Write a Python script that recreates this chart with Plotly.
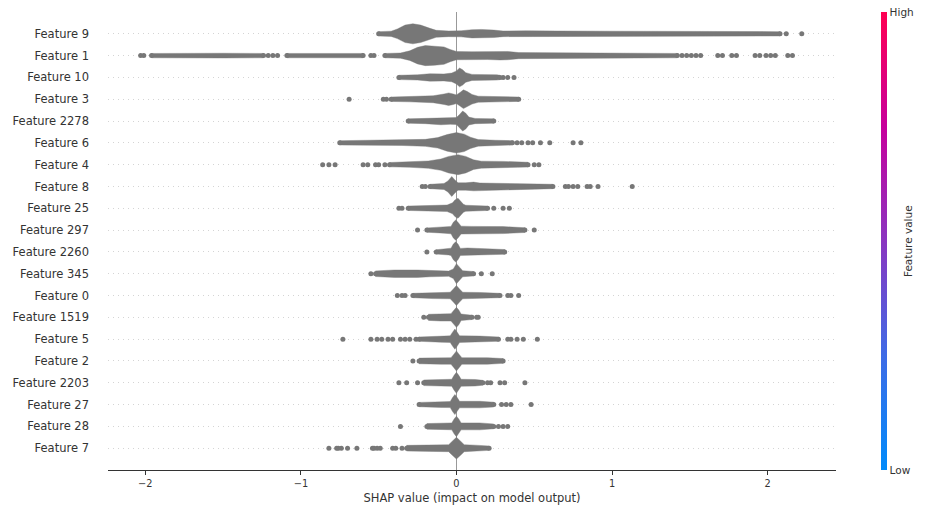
import plotly.graph_objects as go

# ---------------- data ----------------
features = ["Feature 9", "Feature 1", "Feature 10", "Feature 3", "Feature 2278",
            "Feature 6", "Feature 4", "Feature 8", "Feature 25", "Feature 297",
            "Feature 2260", "Feature 345", "Feature 0", "Feature 1519", "Feature 5",
            "Feature 2", "Feature 2203", "Feature 27", "Feature 28", "Feature 7"]

# swarm envelope: SHAP positions and half-thickness of the swarm (in row units)
body_x = [
    [-0.50, -0.42, -0.38, -0.33, -0.28, -0.23, -0.17, -0.13, -0.05, 0.03, 0.10, 0.16, 0.24, 0.30, 0.45, 0.55, 0.65, 1.0, 1.6, 2.08],
    [-1.96, -1.80, -1.50, -1.24, None, -1.09, -0.80, -0.60, None,
     -0.46, -0.36, -0.30, -0.25, -0.20, -0.14, -0.08, -0.04, 0.0, 0.10, 0.20, 0.28, 0.33, 0.40, 0.60, 1.0, 1.42],
    [-0.37, -0.25, -0.17, -0.08, -0.03, 0.0, 0.02, 0.04, 0.06, 0.10, 0.26, 0.28],
    [-0.42, -0.30, -0.15, -0.08, -0.05, -0.02, 0.0, 0.025, 0.045, 0.07, 0.10, 0.14, 0.30, 0.40],
    [-0.31, -0.20, -0.10, -0.04, 0.0, 0.02, 0.04, 0.06, 0.08, 0.12, 0.24],
    [-0.75, -0.55, -0.35, -0.20, -0.12, -0.06, 0.0, 0.05, 0.09, 0.14, 0.25, 0.36],
    [-0.43, -0.30, -0.18, -0.10, -0.05, 0.01, 0.06, 0.11, 0.16, 0.30, 0.46],
    [-0.17, -0.08, -0.055, -0.03, -0.01, 0.01, 0.06, 0.11, 0.15, 0.30, 0.50, 0.62],
    [-0.31, -0.15, -0.06, -0.025, -0.01, 0.01, 0.03, 0.045, 0.06, 0.20],
    [-0.19, -0.08, -0.035, -0.02, -0.005, 0.01, 0.03, 0.10, 0.30, 0.44],
    [-0.13, -0.05, -0.035, -0.02, -0.005, 0.01, 0.025, 0.07, 0.15, 0.31],
    [-0.52, -0.40, -0.25, -0.17, -0.05, -0.02, 0.0, 0.02, 0.04, 0.11],
    [-0.28, -0.15, -0.04, -0.02, 0.0, 0.02, 0.04, 0.15, 0.28],
    [-0.18, -0.10, -0.035, -0.015, 0.0, 0.015, 0.03, 0.10],
    [-0.24, -0.10, -0.04, -0.025, -0.01, 0.005, 0.02, 0.15, 0.27],
    [-0.24, -0.10, -0.035, -0.015, 0.0, 0.015, 0.035, 0.20, 0.30],
    [-0.21, -0.10, -0.03, -0.015, 0.0, 0.015, 0.03, 0.12, 0.17],
    [-0.24, -0.10, -0.04, -0.025, -0.01, 0.005, 0.02, 0.15, 0.24],
    [-0.19, -0.06, -0.03, -0.015, 0.0, 0.015, 0.03, 0.15, 0.24],
    [-0.32, -0.15, -0.05, -0.03, 0.0, 0.03, 0.05, 0.12, 0.21],
]
body_w = [
    [0.10, 0.12, 0.22, 0.40, 0.46, 0.40, 0.25, 0.16, 0.13, 0.14, 0.19, 0.20, 0.17, 0.13, 0.14, 0.15, 0.13, 0.12, 0.11, 0.10],
    [0.10, 0.11, 0.11, 0.10, None, 0.10, 0.10, 0.10, None,
     0.10, 0.12, 0.22, 0.38, 0.46, 0.44, 0.40, 0.28, 0.19, 0.18, 0.18, 0.20, 0.19, 0.14, 0.13, 0.12, 0.10],
    [0.10, 0.12, 0.17, 0.16, 0.20, 0.30, 0.43, 0.35, 0.22, 0.14, 0.12, 0.10],
    [0.10, 0.12, 0.16, 0.24, 0.29, 0.24, 0.20, 0.32, 0.43, 0.35, 0.22, 0.14, 0.12, 0.10],
    [0.10, 0.12, 0.17, 0.15, 0.16, 0.30, 0.46, 0.36, 0.18, 0.12, 0.10],
    [0.10, 0.11, 0.12, 0.16, 0.24, 0.38, 0.47, 0.40, 0.26, 0.15, 0.12, 0.10],
    [0.10, 0.12, 0.17, 0.26, 0.38, 0.46, 0.38, 0.22, 0.16, 0.15, 0.11],
    [0.10, 0.14, 0.25, 0.46, 0.30, 0.17, 0.17, 0.20, 0.16, 0.14, 0.12, 0.10],
    [0.10, 0.14, 0.15, 0.25, 0.38, 0.46, 0.30, 0.18, 0.14, 0.10],
    [0.10, 0.14, 0.17, 0.36, 0.46, 0.36, 0.18, 0.17, 0.16, 0.11],
    [0.10, 0.14, 0.17, 0.36, 0.46, 0.36, 0.16, 0.18, 0.15, 0.11],
    [0.13, 0.17, 0.17, 0.14, 0.12, 0.22, 0.46, 0.30, 0.14, 0.10],
    [0.10, 0.14, 0.15, 0.30, 0.46, 0.30, 0.15, 0.14, 0.10],
    [0.14, 0.17, 0.17, 0.34, 0.46, 0.34, 0.15, 0.10],
    [0.10, 0.14, 0.15, 0.32, 0.46, 0.32, 0.15, 0.14, 0.10],
    [0.13, 0.15, 0.15, 0.32, 0.46, 0.32, 0.15, 0.15, 0.11],
    [0.13, 0.15, 0.16, 0.34, 0.48, 0.34, 0.16, 0.15, 0.11],
    [0.10, 0.13, 0.14, 0.32, 0.46, 0.32, 0.15, 0.15, 0.11],
    [0.13, 0.15, 0.16, 0.34, 0.47, 0.34, 0.16, 0.16, 0.11],
    [0.13, 0.15, 0.16, 0.30, 0.50, 0.30, 0.16, 0.14, 0.10],
]
# isolated points outside the dense swarm
outliers = [
    [2.12, 2.22],
    [-2.03, -2.01, -1.21, -1.18, -1.15, -0.55, -0.53, 1.45, 1.48, 1.51, 1.54, 1.57,
     1.68, 1.71, 1.77, 1.80, 1.92, 1.95, 1.99, 2.02, 2.05, 2.13, 2.16],
    [0.30, 0.33, 0.37],
    [-0.69, -0.47, -0.45],
    [],
    [0.39, 0.42, 0.46, 0.49, 0.54, 0.60, 0.75, 0.80],
    [-0.86, -0.82, -0.78, -0.60, -0.57, -0.52, -0.50, -0.46, 0.50, 0.53],
    [-0.22, -0.20, 0.70, 0.72, 0.75, 0.78, 0.84, 0.86, 0.91, 1.13],
    [-0.37, -0.35, 0.24, 0.30, 0.34],
    [-0.25, 0.50],
    [-0.19],
    [-0.55, 0.16, 0.23],
    [-0.38, -0.35, -0.33, 0.33, 0.35, 0.40],
    [-0.21, 0.13, 0.14],
    [-0.73, -0.55, -0.51, -0.48, -0.44, -0.41, -0.36, -0.33, -0.30, -0.26, 0.33, 0.35, 0.39, 0.43, 0.52],
    [-0.28],
    [-0.37, -0.32, -0.25, 0.20, 0.22, 0.28, 0.31, 0.44],
    [0.29, 0.32, 0.35, 0.48],
    [-0.36, 0.27, 0.30, 0.33],
    [-0.82, -0.77, -0.76, -0.74, -0.70, -0.64, -0.54, -0.53, -0.51, -0.49, -0.41, -0.39, -0.35],
]
x_tick_vals = [-2, -1, 0, 1, 2]
x_tick_text = ["\u22122", "\u22121", "0", "1", "2"]

# ---------------- styling ----------------
GRAY = "#777777"
FONT = "DejaVu Sans"
TXT = "#333333"
n = len(features)

fig = go.Figure()
for i, name in enumerate(features):
    row = n - 1 - i
    segs, cur = [], []
    for x, w in zip(body_x[i], body_w[i]):
        if x is None:
            segs.append(cur)
            cur = []
        else:
            cur.append((x, w))
    segs.append(cur)
    px, py, cap_x = [], [], []
    for seg in segs:
        ux = [x for x, w in seg]
        uy = [row + w for x, w in seg]
        ly = [row - w for x, w in seg]
        px += ux + ux[::-1] + [ux[0], None]
        py += uy + ly[::-1] + [uy[0], None]
        cap_x += [ux[0], ux[-1]]
    fig.add_trace(go.Scatter(x=px, y=py, mode="lines", fill="toself",
                             fillcolor=GRAY, line=dict(width=0.4, color=GRAY),
                             hoverinfo="skip", showlegend=False))
    pts = outliers[i] + cap_x
    fig.add_trace(go.Scatter(x=pts, y=[row] * len(pts), mode="markers",
                             marker=dict(size=5, color=GRAY, line=dict(width=0)),
                             hoverinfo="skip", showlegend=False))

# colorbar (feature value scale)
fig.add_trace(go.Scatter(
    x=[None, None], y=[None, None], mode="markers", showlegend=False, hoverinfo="skip",
    marker=dict(color=[0, 1], cmin=0, cmax=1, showscale=True,
                colorscale=[[0, "#008bfb"], [0.25, "#3e6be6"], [0.5, "#8a35c0"],
                            [0.75, "#c7009c"], [1, "#ff0052"]],
                colorbar=dict(x=1.062, xanchor="left", y=0.5, yanchor="middle",
                              len=1, lenmode="fraction", thickness=6,
                              outlinewidth=0, xpad=0, ypad=0,
                              tickvals=[0, 1], ticktext=["Low", "High"], ticks="",
                              tickfont=dict(family=FONT, size=10.5, color=TXT)))))

fig.add_annotation(text="Feature value", xref="paper", yref="paper", x=1.11, y=0.5,
                   textangle=-90, showarrow=False,
                   font=dict(family=FONT, size=10.5, color=TXT))

fig.update_layout(
    width=926, height=506,
    margin=dict(l=108, r=90, t=12, b=36, autoexpand=False),
    paper_bgcolor="white", plot_bgcolor="white",
    font=dict(family=FONT, color=TXT),
    xaxis=dict(range=[-2.24, 2.44], tickvals=x_tick_vals, ticktext=x_tick_text,
               ticks="outside", ticklen=4, tickcolor=TXT, showline=True,
               linecolor=TXT, linewidth=1, showgrid=False, automargin=False,
               zeroline=True, zerolinecolor="#999999", zerolinewidth=1,
               tickfont=dict(family=FONT, size=9.8, color=TXT),
               title=dict(text="SHAP value (impact on model output)", standoff=6,
                          font=dict(family=FONT, size=11.5, color=TXT))),
    yaxis=dict(range=[-1, n], tickvals=list(range(n)), ticktext=features[::-1],
               ticks="", showline=False, zeroline=False, automargin=False,
               showgrid=True, gridcolor="#d4d4d4", gridwidth=1, griddash="1px,4px",
               ticklabelstandoff=18,
               tickfont=dict(family=FONT, size=11.5, color=TXT)),
)

fig.write_html("out.html", config={"displayModeBar": False},
               post_script="document.body.style.margin='0';")
